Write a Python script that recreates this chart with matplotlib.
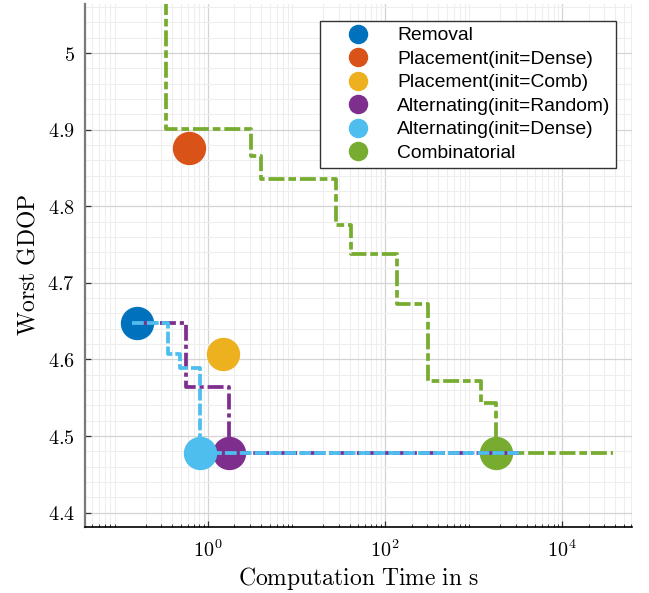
import matplotlib
matplotlib.use("Agg")
import matplotlib.pyplot as plt
from matplotlib.lines import Line2D
from matplotlib.ticker import FixedLocator, LogLocator, NullFormatter, FixedFormatter

plt.rcParams['mathtext.fontset'] = 'cm'
plt.rcParams['lines.scale_dashes'] = False

# ---- data ----
method_names = ["Removal", "Placement(init=Dense)", "Placement(init=Comb)",
                "Alternating(init=Random)", "Alternating(init=Dense)", "Combinatorial"]
method_colors = ["#0072BD", "#D95319", "#EDB120", "#7E2F8E", "#4DBEEE", "#77AC30"]
final_time = [0.158, 0.615, 1.50, 1.74, 0.82, 1780.0]
final_gdop = [4.648, 4.876, 4.6065, 4.478, 4.478, 4.478]

# step traces (time, best GDOP so far)
comb_t = [0.336, 0.336, 3.08, 3.08, 4.0, 4.0, 27.8, 27.8, 41.4, 41.4, 136, 136,
          304, 304, 1216, 1216, 1780, 1780, 37250]
comb_g = [5.2, 4.901, 4.901, 4.865, 4.865, 4.836, 4.836, 4.776, 4.776, 4.737, 4.737,
          4.672, 4.672, 4.572, 4.572, 4.543, 4.543, 4.478, 4.478]
altr_t = [0.139, 0.569, 0.569, 1.74, 1.74, 3300]
altr_g = [4.648, 4.648, 4.564, 4.564, 4.478, 4.478]
altd_t = [0.139, 0.359, 0.359, 0.487, 0.487, 0.82, 0.82, 3500]
altd_g = [4.648, 4.648, 4.6065, 4.6065, 4.589, 4.589, 4.478, 4.478]

x_ticks = [1e0, 1e2, 1e4]
x_tick_labels = [r"$10^{0}$", r"$10^{2}$", r"$10^{4}$"]
y_ticks = [4.4, 4.5, 4.6, 4.7, 4.8, 4.9, 5.0]
y_tick_labels = [r"$4.4$", r"$4.5$", r"$4.6$", r"$4.7$", r"$4.8$", r"$4.9$", r"$5$"]

fig = plt.figure(figsize=(6.49, 5.93), dpi=100)
ax = fig.add_axes([0.1305, 0.1118, 0.8433, 0.8815])
ax.set_xscale('log')
ax.set_xlim(0.041, 61500)
ax.set_ylim(4.3817, 5.064)

# grid
ax.set_axisbelow(True)
ax.grid(which='major', color='#d4d4d4', linewidth=0.9)
ax.yaxis.set_minor_locator(FixedLocator([4.38 + 0.02 * i for i in range(35)]))
ax.xaxis.set_minor_locator(LogLocator(base=10, subs=range(2, 10), numticks=20))
ax.grid(which='minor', color='#eeeeee', linewidth=0.8)

# markers
for name, c, t, g in zip(method_names, method_colors, final_time, final_gdop):
    ax.plot([t], [g], 'o', color=c, markersize=23, zorder=3, linestyle='none')

lw = 2.7
ax.plot(comb_t, comb_g, color=method_colors[5], lw=lw, dashes=(11.5, 2.8, 5.5, 2.8), zorder=4)
ax.plot(altr_t, altr_g, color=method_colors[3], lw=lw, dashes=(11.5, 2.8, 3.0, 2.8), zorder=4)
ax.plot(altd_t, altd_g, color=method_colors[4], lw=lw, dashes=(8.5, 2.2), zorder=4)

ax.xaxis.set_major_locator(FixedLocator(x_ticks))
ax.xaxis.set_major_formatter(FixedFormatter(x_tick_labels))
ax.xaxis.set_minor_formatter(NullFormatter())
ax.yaxis.set_major_locator(FixedLocator(y_ticks))
ax.yaxis.set_major_formatter(FixedFormatter(y_tick_labels))

ax.tick_params(axis='both', which='major', direction='in', labelsize=14.5, length=4, width=0.9, color='#333333')
ax.tick_params(axis='both', which='minor', direction='in', length=2.5, width=0.7, color='#333333')
ax.tick_params(axis='x', which='major', pad=9)
ax.tick_params(axis='y', which='major', pad=7)
ax.tick_params(axis='y', which='minor', length=0)

for s in ['top', 'right']:
    ax.spines[s].set_visible(False)
ax.spines['left'].set_color('#7a7a7a')
ax.spines['left'].set_linewidth(1.6)
ax.spines['bottom'].set_color('black')
ax.spines['bottom'].set_linewidth(1.2)

ax.set_xlabel(r"$\mathrm{Computation\ Time\ in\ s}$", fontsize=17, labelpad=3)
ax.set_ylabel(r"$\mathrm{Worst\ GDOP}$", fontsize=17, labelpad=6)

handles = [Line2D([], [], marker='o', linestyle='none', color=c, markersize=13) for c in method_colors]
leg = ax.legend(handles, method_names, loc='upper right', bbox_to_anchor=(0.971, 0.9675),
                prop={'family': 'Liberation Sans', 'size': 13.9}, frameon=True, fancybox=False,
                edgecolor='#333333', framealpha=1, handletextpad=0.35, labelspacing=0.31,
                borderpad=0.3, handlelength=3.33, borderaxespad=0)
leg.get_frame().set_linewidth(1.0)

fig.savefig("out.png", dpi=100)
